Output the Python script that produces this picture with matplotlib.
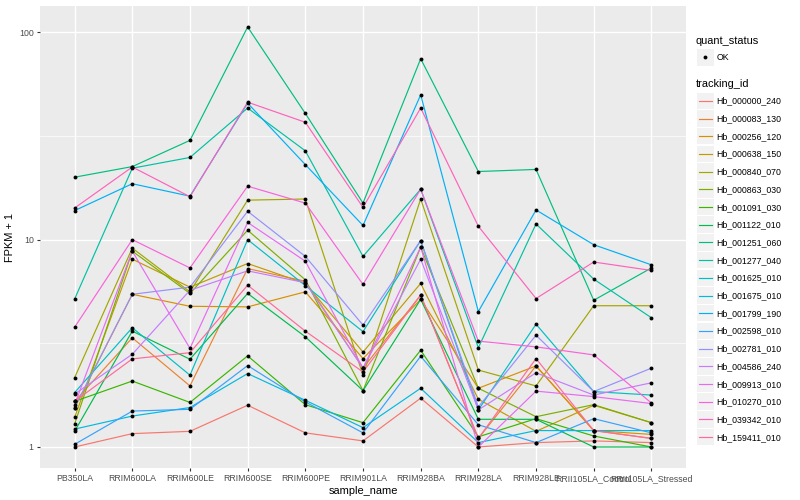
import numpy as np
import matplotlib
matplotlib.use("Agg")
import matplotlib.pyplot as plt
from matplotlib.patches import Rectangle

plt.rcParams["font.family"] = ["Liberation Sans", "DejaVu Sans"]

samples = ["PB350LA", "RRIM600LA", "RRIM600LE", "RRIM600SE", "RRIM600PE",
           "RRIM901LA", "RRIM928BA", "RRIM928LA", "RRIM928LE",
           "RRII105LA_Control", "RRII105LA_Stressed"]

tracking_ids = ["Hb_000000_240", "Hb_000083_130", "Hb_000256_120", "Hb_000638_150",
                "Hb_000840_070", "Hb_000863_030", "Hb_001091_030", "Hb_001122_010",
                "Hb_001251_060", "Hb_001277_040", "Hb_001625_010", "Hb_001675_010",
                "Hb_001799_190", "Hb_002598_010", "Hb_002781_010", "Hb_004586_240",
                "Hb_009913_010", "Hb_010270_010", "Hb_039342_010", "Hb_159411_010"]

# FPKM + 1 per gene, one value per sample
hb_000000_240 = [1.00, 1.16, 1.19, 1.59, 1.17, 1.07, 1.72, 1.00, 1.05, 1.07, 1.05]
hb_000083_130 = [1.66, 3.36, 1.97, 7.25, 6.30, 2.40, 5.40, 1.10, 2.46, 1.20, 1.10]
hb_000256_120 = [1.54, 5.45, 4.77, 4.74, 5.60, 2.67, 5.15, 1.92, 2.46, 1.20, 1.15]
hb_000638_150 = [1.39, 8.05, 5.90, 7.67, 6.15, 2.87, 6.15, 1.70, 1.19, 1.59, 1.31]
hb_000840_070 = [2.16, 9.10, 5.60, 15.5, 15.7, 2.22, 15.7, 2.35, 1.97, 4.80, 4.80]
hb_000863_030 = [1.29, 8.80, 5.50, 11.1, 6.40, 1.87, 9.20, 1.92, 1.40, 1.60, 1.31]
hb_001091_030 = [1.66, 2.08, 1.64, 2.75, 1.60, 1.31, 2.93, 1.12, 1.37, 1.13, 1.00]
hb_001122_010 = [1.19, 3.62, 2.65, 5.50, 3.40, 1.87, 5.15, 1.36, 1.36, 1.00, 1.00]
hb_001251_060 = [20.0, 22.5, 30.1, 106., 40.6, 15.0, 74.5, 21.3, 21.8, 5.10, 7.30]
hb_001277_040 = [5.17, 22.1, 24.9, 43.1, 26.8, 8.30, 17.5, 3.01, 11.9, 6.45, 4.20]
hb_001625_010 = [1.83, 3.76, 2.22, 10.0, 6.00, 3.60, 9.90, 1.51, 3.91, 1.85, 1.78]
hb_001675_010 = [1.22, 1.41, 1.55, 2.26, 1.68, 1.24, 1.92, 1.05, 1.20, 1.20, 1.20]
hb_001799_190 = [13.8, 18.6, 16.2, 45.5, 23.0, 11.7, 49.9, 4.50, 13.9, 9.45, 7.56]
hb_002598_010 = [1.03, 1.49, 1.52, 2.47, 1.65, 1.17, 2.74, 1.28, 1.05, 1.37, 1.17]
hb_002781_010 = [1.55, 5.45, 5.90, 13.7, 8.30, 3.87, 9.90, 1.56, 3.46, 1.85, 2.40]
hb_004586_240 = [1.80, 2.80, 5.70, 7.07, 6.20, 2.40, 8.05, 1.51, 2.28, 1.78, 2.04]
hb_009913_010 = [1.60, 8.80, 2.99, 12.1, 7.87, 2.40, 9.20, 1.00, 1.86, 1.75, 1.62]
hb_010270_010 = [3.78, 10.0, 7.30, 18.1, 15.0, 6.08, 17.5, 3.24, 3.04, 2.78, 1.63]
hb_039342_010 = [14.2, 22.4, 16.1, 46.0, 36.8, 14.3, 43.1, 11.6, 5.20, 7.80, 7.10]
hb_159411_010 = [1.66, 2.66, 2.85, 6.03, 3.62, 2.30, 5.40, 1.10, 2.67, 1.20, 1.10]

values = [hb_000000_240, hb_000083_130, hb_000256_120, hb_000638_150, hb_000840_070,
          hb_000863_030, hb_001091_030, hb_001122_010, hb_001251_060, hb_001277_040,
          hb_001625_010, hb_001675_010, hb_001799_190, hb_002598_010, hb_002781_010,
          hb_004586_240, hb_009913_010, hb_010270_010, hb_039342_010, hb_159411_010]


def hue_pal(n, c=100.0, l=65.0):
    # ggplot2 default discrete palette (polar LUV -> sRGB)
    hues = np.linspace(15, 375, n + 1)[:n]
    xn, yn, zn = 95.047, 100.0, 108.883
    den = xn + 15 * yn + 3 * zn
    un, vn = 4 * xn / den, 9 * yn / den
    m = np.array([[3.240479, -1.537150, -0.498535],
                  [-0.969256, 1.875992, 0.041556],
                  [0.055648, -0.204043, 1.057311]])
    out = []
    for h in hues:
        u = c * np.cos(np.radians(h))
        v = c * np.sin(np.radians(h))
        y = yn * ((l + 16) / 116) ** 3
        up = u / (13 * l) + un
        vp = v / (13 * l) + vn
        x = 9.0 * y * up / (4 * vp)
        z = -x / 3 - 5 * y + 3 * y / vp
        rgb = m @ (np.array([x, y, z]) / 100.0)
        rgb = np.where(rgb > 0.0031308, 1.055 * np.abs(rgb) ** (1 / 2.4) - 0.055, 12.92 * rgb)
        out.append(tuple(np.clip(rgb, 0, 1)))
    return out


colors = hue_pal(len(tracking_ids))

fig = plt.figure(figsize=(8, 5), dpi=100)
ax = fig.add_axes([40 / 800, 1 - 468 / 500, 646 / 800, 462 / 500])
ax.set_facecolor("#EBEBEB")

xpos = np.arange(len(samples))
for tid, vals, col in zip(tracking_ids, values, colors):
    ax.plot(xpos, vals, color=col, lw=0.85, zorder=2)
for vals in values:
    ax.plot(xpos, vals, "o", color="black", ms=2.8, zorder=3, mec="none")

ax.set_yscale("log")
all_vals = np.log10(np.concatenate([np.array(v) for v in values]))
lo, hi = all_vals.min(), all_vals.max()
pad = 0.05 * (hi - lo)
ax.set_ylim(10 ** (lo - pad), 10 ** (hi + pad))
ax.set_xlim(-0.6, len(samples) - 0.4)

ax.set_yticks([1, 10, 100])
ax.set_yticklabels(["1", "10", "100"])
ax.yaxis.set_minor_locator(matplotlib.ticker.FixedLocator([10 ** 0.5, 10 ** 1.5]))
ax.yaxis.set_minor_formatter(matplotlib.ticker.NullFormatter())
ax.set_xticks(xpos)
ax.set_xticklabels(samples)

ax.grid(True, which="major", color="white", lw=1.0, zorder=0)
ax.grid(True, which="minor", axis="y", color="white", lw=0.5, zorder=0)
ax.set_axisbelow(True)
for s in ax.spines.values():
    s.set_visible(False)
ax.tick_params(axis="both", which="major", length=2.5, width=0.8, color="#333333",
               labelcolor="#4D4D4D", labelsize=6.3, pad=2)
ax.tick_params(axis="y", which="minor", length=0)

ax.set_xlabel("sample_name", fontsize=7.9, labelpad=2)
ax.set_ylabel("FPKM + 1", fontsize=7.9, labelpad=3)

# legend drawn in pixel coordinates, ggplot style
lg = fig.add_axes([0, 0, 1, 1], facecolor="none")
lg.set_xlim(0, 800)
lg.set_ylim(500, 0)
lg.axis("off")

lg.text(696, 41, "quant_status", fontsize=7.9, va="center", ha="left")
lg.add_patch(Rectangle((697, 49), 16.5, 16.5, facecolor="#F2F2F2", edgecolor="none"))
lg.plot([705.2], [57.2], "o", color="black", ms=2.8, mec="none")
lg.text(716.5, 57.5, "OK", fontsize=6.3, va="center", ha="left")

lg.text(696, 84, "tracking_id", fontsize=7.9, va="center", ha="left")
for i, (tid, col) in enumerate(zip(tracking_ids, colors)):
    yc = 100.8 + i * 17.7
    lg.add_patch(Rectangle((697, yc - 8.3), 16.5, 16.5, facecolor="#F2F2F2", edgecolor="none"))
    lg.plot([698.5, 711.5], [yc, yc], color=col, lw=0.85)
    lg.text(716.5, yc + 0.3, tid, fontsize=6.3, va="center", ha="left")

fig.savefig("out.png", dpi=100)
